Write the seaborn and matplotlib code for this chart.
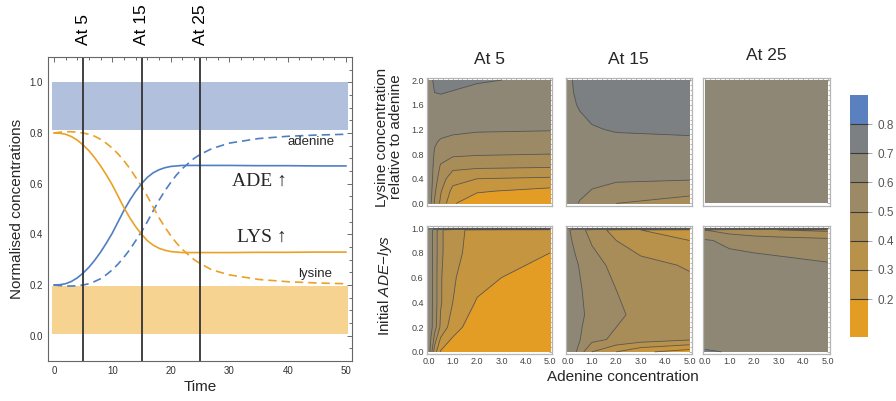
import numpy as np
import matplotlib
matplotlib.use("Agg")
import matplotlib.pyplot as plt
import matplotlib.transforms as mtrans
from matplotlib.colors import ListedColormap, BoundaryNorm
from matplotlib.cm import ScalarMappable
from matplotlib.ticker import AutoMinorLocator
import seaborn as sns

# ---------------- data: time courses ----------------
time = [0, 1, 2, 3, 4, 5, 6, 7, 8, 9, 10, 11, 12, 13, 14, 15, 16, 17, 18, 19,
        20, 21, 22, 23, 24, 25, 27, 30, 35, 40, 45, 50]
ade_up = [0.200, 0.201, 0.205, 0.214, 0.228, 0.247, 0.270, 0.298, 0.330, 0.366,
          0.405, 0.450, 0.495, 0.535, 0.570, 0.600, 0.625, 0.643, 0.655, 0.663,
          0.668, 0.670, 0.672, 0.672, 0.672, 0.672, 0.672, 0.672, 0.671, 0.671,
          0.670, 0.670]
lys_up = [0.800, 0.799, 0.795, 0.786, 0.772, 0.753, 0.730, 0.702, 0.670, 0.634,
          0.595, 0.550, 0.505, 0.465, 0.430, 0.400, 0.375, 0.357, 0.345, 0.337,
          0.332, 0.330, 0.328, 0.328, 0.328, 0.328, 0.328, 0.328, 0.329, 0.329,
          0.330, 0.330]
adenine = [0.200, 0.198, 0.196, 0.196, 0.197, 0.200, 0.205, 0.214, 0.225, 0.241,
           0.260, 0.283, 0.310, 0.340, 0.375, 0.410, 0.450, 0.493, 0.535, 0.572,
           0.605, 0.635, 0.660, 0.680, 0.700, 0.715, 0.738, 0.760, 0.778, 0.787,
           0.792, 0.795]
lysine = [0.800, 0.803, 0.805, 0.805, 0.803, 0.800, 0.795, 0.787, 0.775, 0.759,
          0.740, 0.717, 0.690, 0.660, 0.625, 0.590, 0.550, 0.507, 0.465, 0.428,
          0.395, 0.365, 0.340, 0.320, 0.300, 0.285, 0.260, 0.240, 0.222, 0.213,
          0.208, 0.205]
at_times = [5, 15, 25]
at_labels = ["At 5", "At 15", "At 25"]
band_time = [-0.3, 50.3]
ade_band = [0.81, 1.0]
lys_band = [0.005, 0.195]

# ---------------- data: contour grids ----------------
adenine_conc_a = [0, 0.1, 0.25, 0.5, 1, 2, 5]
lys_rel = [0, 0.2, 0.4, 0.6, 0.8, 1.0, 1.2, 1.6, 2.0]
z_rel_t5 = [  # rows: lys_rel, cols: adenine_conc_a
    [0.650, 0.610, 0.490, 0.380, 0.210, 0.140, 0.080],
    [0.650, 0.630, 0.520, 0.410, 0.270, 0.210, 0.170],
    [0.650, 0.640, 0.550, 0.450, 0.340, 0.300, 0.285],
    [0.650, 0.645, 0.570, 0.490, 0.430, 0.420, 0.410],
    [0.650, 0.650, 0.590, 0.540, 0.520, 0.510, 0.500],
    [0.650, 0.655, 0.610, 0.590, 0.575, 0.565, 0.560],
    [0.655, 0.660, 0.640, 0.630, 0.620, 0.610, 0.605],
    [0.660, 0.670, 0.690, 0.685, 0.680, 0.670, 0.660],
    [0.665, 0.690, 0.710, 0.720, 0.715, 0.705, 0.690],
]
z_rel_t15 = [
    [0.640, 0.625, 0.615, 0.595, 0.570, 0.500, 0.470],
    [0.645, 0.635, 0.625, 0.615, 0.597, 0.575, 0.520],
    [0.650, 0.645, 0.640, 0.630, 0.615, 0.610, 0.610],
    [0.655, 0.655, 0.650, 0.645, 0.640, 0.640, 0.640],
    [0.660, 0.660, 0.660, 0.660, 0.655, 0.660, 0.665],
    [0.665, 0.670, 0.670, 0.670, 0.675, 0.685, 0.690],
    [0.670, 0.675, 0.680, 0.685, 0.695, 0.705, 0.710],
    [0.675, 0.685, 0.695, 0.705, 0.720, 0.725, 0.730],
    [0.680, 0.690, 0.705, 0.720, 0.730, 0.735, 0.740],
]
adenine_conc_c = [0, 5]
lys_rel_c = [0, 2]
z_rel_t25 = [[0.65, 0.65], [0.65, 0.65]]

adenine_conc_b1 = [0, 0.1, 0.25, 0.5, 1, 2, 3, 5]
ade_frac_1 = [0, 0.2, 0.4, 0.6, 0.8, 0.985, 1.0]
z_init_t5 = [
    [0.66, 0.56, 0.35, 0.19, 0.14, 0.10, 0.09, 0.08],
    [0.66, 0.63, 0.55, 0.38, 0.24, 0.14, 0.12, 0.10],
    [0.66, 0.63, 0.56, 0.41, 0.30, 0.19, 0.16, 0.13],
    [0.66, 0.63, 0.56, 0.41, 0.31, 0.24, 0.20, 0.16],
    [0.66, 0.63, 0.56, 0.42, 0.32, 0.27, 0.24, 0.20],
    [0.66, 0.63, 0.56, 0.42, 0.32, 0.28, 0.26, 0.24],
    [0.75, 0.75, 0.75, 0.75, 0.75, 0.75, 0.75, 0.75],
]
adenine_conc_b2 = [0, 0.3, 0.6, 1, 2, 3, 5]
ade_frac_2 = [0, 0.1, 0.3, 0.5, 0.7, 0.9, 0.985, 1.0]
z_init_t15 = [
    [0.66, 0.62, 0.52, 0.40, 0.30, 0.22, 0.15],
    [0.66, 0.63, 0.59, 0.53, 0.48, 0.45, 0.41],
    [0.66, 0.64, 0.61, 0.57, 0.52, 0.47, 0.45],
    [0.66, 0.63, 0.60, 0.56, 0.50, 0.46, 0.43],
    [0.66, 0.62, 0.58, 0.54, 0.47, 0.43, 0.39],
    [0.63, 0.58, 0.54, 0.49, 0.40, 0.35, 0.30],
    [0.62, 0.56, 0.52, 0.46, 0.36, 0.30, 0.26],
    [0.75, 0.75, 0.75, 0.75, 0.75, 0.75, 0.75],
]
adenine_conc_b3 = [0, 1, 2, 3, 5]
ade_frac_3 = [0, 0.05, 0.5, 0.7, 0.8, 0.9, 0.985, 1.0]
z_init_t25 = [
    [0.72, 0.69, 0.67, 0.66, 0.66],
    [0.67, 0.66, 0.66, 0.66, 0.66],
    [0.66, 0.65, 0.65, 0.65, 0.65],
    [0.66, 0.64, 0.62, 0.615, 0.61],
    [0.65, 0.61, 0.60, 0.595, 0.57],
    [0.61, 0.58, 0.56, 0.55, 0.53],
    [0.50, 0.45, 0.42, 0.40, 0.38],
    [0.75, 0.75, 0.75, 0.75, 0.75],
]

fill_levels = [0.0, 0.2, 0.3, 0.4, 0.5, 0.6, 0.7, 0.8, 1.0]
line_levels = [0.2, 0.3, 0.4, 0.5, 0.6, 0.7, 0.8]
level_colors = ["#e39d25", "#c6953f", "#b8914b", "#a98d59", "#9c8a67",
                "#8e8775", "#7c8082", "#5b80bf"]
cbar_bounds = [0.07, 0.2, 0.3, 0.4, 0.5, 0.6, 0.7, 0.8, 0.9]
cbar_ticks = [0.2, 0.3, 0.4, 0.5, 0.6, 0.7, 0.8]

# ---------------- style ----------------
sns.set_style("white")
plt.rcParams['font.family'] = ['Liberation Sans', 'DejaVu Sans']
plt.rcParams['mathtext.fontset'] = 'custom'
plt.rcParams['mathtext.it'] = 'Liberation Sans:italic'
plt.rcParams['mathtext.rm'] = 'Liberation Sans'

W, H = 896, 401
fig = plt.figure(figsize=(W / 100, H / 100), dpi=100)


def rect(l, t, r, b):
    return [l / W, 1 - b / H, (r - l) / W, (b - t) / H]


BLUE = "#4f7fc2"
ORANGE = "#eaa126"

# ---------------- left panel ----------------
ax = fig.add_axes(rect(48, 57, 352, 361))
ax.fill_between(band_time, ade_band[0], ade_band[1], color="#b1c1dd", lw=0)
ax.fill_between(band_time, lys_band[0], lys_band[1], color="#f6d391", lw=0)
sns.lineplot(x=time, y=adenine, ax=ax, color=BLUE, lw=1.2, linestyle=(0, (5, 3)))
sns.lineplot(x=time, y=lysine, ax=ax, color=ORANGE, lw=1.2, linestyle=(0, (5, 3)))
sns.lineplot(x=time, y=ade_up, ax=ax, color=BLUE, lw=1.2)
sns.lineplot(x=time, y=lys_up, ax=ax, color=ORANGE, lw=1.2)
trans = mtrans.blended_transform_factory(ax.transData, ax.transAxes)
for t, lab in zip(at_times, at_labels):
    ax.axvline(t, color="#333333", lw=1.3)
    ax.text(t, 1.04, lab, transform=trans, rotation=90, ha="center", va="bottom",
            fontsize=12.5, color="black")
ax.text(44.0, 0.764, "adenine", fontsize=9.5, ha="center", va="center")
ax.text(44.7, 0.242, "lysine", fontsize=9.5, ha="center", va="center")
ax.text(35.1, 0.61, "ADE \u2191", fontsize=14, ha="center", va="center",
        family=["Liberation Serif", "DejaVu Serif"])
ax.text(35.6, 0.387, "LYS \u2191", fontsize=14, ha="center", va="center",
        family=["Liberation Serif", "DejaVu Serif"])
ax.set_xlim(-1, 51)
ax.set_ylim(-0.1, 1.1)
ax.set_xticks([0, 10, 20, 30, 40, 50])
ax.set_yticks([0.0, 0.2, 0.4, 0.6, 0.8, 1.0])
ax.set_yticklabels([f"{v:.1f}" for v in [0.0, 0.2, 0.4, 0.6, 0.8, 1.0]])
ax.xaxis.set_minor_locator(AutoMinorLocator(5))
ax.yaxis.set_minor_locator(AutoMinorLocator(4))
ax.tick_params(which="both", direction="in", top=True, right=True,
               labelsize=7, labelcolor="#333333", color="#555555", width=0.6)
ax.tick_params(which="major", length=3.5)
ax.tick_params(which="minor", length=2)
for s in ax.spines.values():
    s.set_color("#666666")
    s.set_linewidth(0.8)
ax.set_ylabel("Normalised concentrations", fontsize=11)
ax.set_xlabel("Time", fontsize=11)
ax.yaxis.set_label_coords(-0.079, 0.5)
ax.xaxis.set_label_coords(0.5, -0.062)

# ---------------- contour panels ----------------
cols = [(426.5, 552), (565.5, 691.5), (703, 829.5)]
rows = [(78, 205.5), (226, 354)]
panels = [
    [(adenine_conc_a, lys_rel, z_rel_t5), (adenine_conc_a, lys_rel, z_rel_t15),
     (adenine_conc_c, lys_rel_c, z_rel_t25)],
    [(adenine_conc_b1, ade_frac_1, z_init_t5), (adenine_conc_b2, ade_frac_2, z_init_t15),
     (adenine_conc_b3, ade_frac_3, z_init_t25)],
]
title_pads = [10, 10, 13]
for r, (top, bot) in enumerate(rows):
    for c, (left, right) in enumerate(cols):
        pax = fig.add_axes(rect(left, top, right, bot))
        xs, ys, zs = panels[r][c]
        zarr = np.array(zs)
        pax.contourf(xs, ys, zarr, levels=fill_levels, colors=level_colors)
        if zarr.max() - zarr.min() > 1e-6:
            pax.contour(xs, ys, zarr, levels=line_levels, colors="#4d4d4d",
                        linewidths=0.6, alpha=0.85)
        ymax = 2.0 if r == 0 else 1.0
        pax.set_xlim(-0.08, 5.08)
        pax.set_ylim(-0.017 * ymax, 1.017 * ymax)
        pax.set_xticks([0, 1, 2, 3, 4, 5])
        if r == 1:
            pax.set_xticklabels([f"{v:.1f}" for v in [0, 1, 2, 3, 4, 5]])
        else:
            pax.set_xticklabels([])
        yt = [0.0, 0.4, 0.8, 1.2, 1.6, 2.0] if r == 0 else [0.0, 0.2, 0.4, 0.6, 0.8, 1.0]
        pax.set_yticks(yt)
        if c == 0:
            pax.set_yticklabels([f"{v:.1f}" for v in yt])
        else:
            pax.set_yticklabels([])
        pax.xaxis.set_minor_locator(AutoMinorLocator(5))
        pax.yaxis.set_minor_locator(AutoMinorLocator(5))
        pax.tick_params(which="both", direction="in", top=True, right=True,
                        labelsize=6.5, labelcolor="#444444", color="#999999",
                        width=0.5, pad=2)
        pax.tick_params(which="major", length=2.5)
        pax.tick_params(which="minor", length=1.3)
        for s in pax.spines.values():
            s.set_color("#b5b5b5")
            s.set_linewidth(0.9)
        if r == 0:
            pax.set_title(at_labels[c], fontsize=12.5, pad=title_pads[c])

fig.text(623 / W, 1 - 377 / H, "Adenine concentration", ha="center", va="center",
         fontsize=11)
fig.text(389 / W, 1 - 137 / H, "Lysine concentration\nrelative to adenine",
         rotation=90, ha="center", va="center", fontsize=11, linespacing=1.0)
fig.text(385 / W, 1 - 285 / H, "Initial $ADE\\!-\\!lys$", rotation=90,
         ha="center", va="center", fontsize=11)

# ---------------- colorbar ----------------
cax = fig.add_axes(rect(850, 95, 868, 337))
cmap = ListedColormap(level_colors)
norm = BoundaryNorm(cbar_bounds, cmap.N)
sm = ScalarMappable(norm=norm, cmap=cmap)
cb = fig.colorbar(sm, cax=cax, boundaries=cbar_bounds, ticks=cbar_ticks,
                  spacing="proportional", drawedges=True)
cb.outline.set_visible(False)
cb.dividers.set_color("#3a3a3a")
cb.dividers.set_linewidth(0.8)
cb.ax.minorticks_off()
cb.ax.tick_params(labelsize=8.5, labelcolor="#555555", color="#888888",
                  length=3, width=0.5)
cb.ax.set_yticklabels([f"{v:.1f}" for v in cbar_ticks])

fig.savefig("out.png", dpi=100)
